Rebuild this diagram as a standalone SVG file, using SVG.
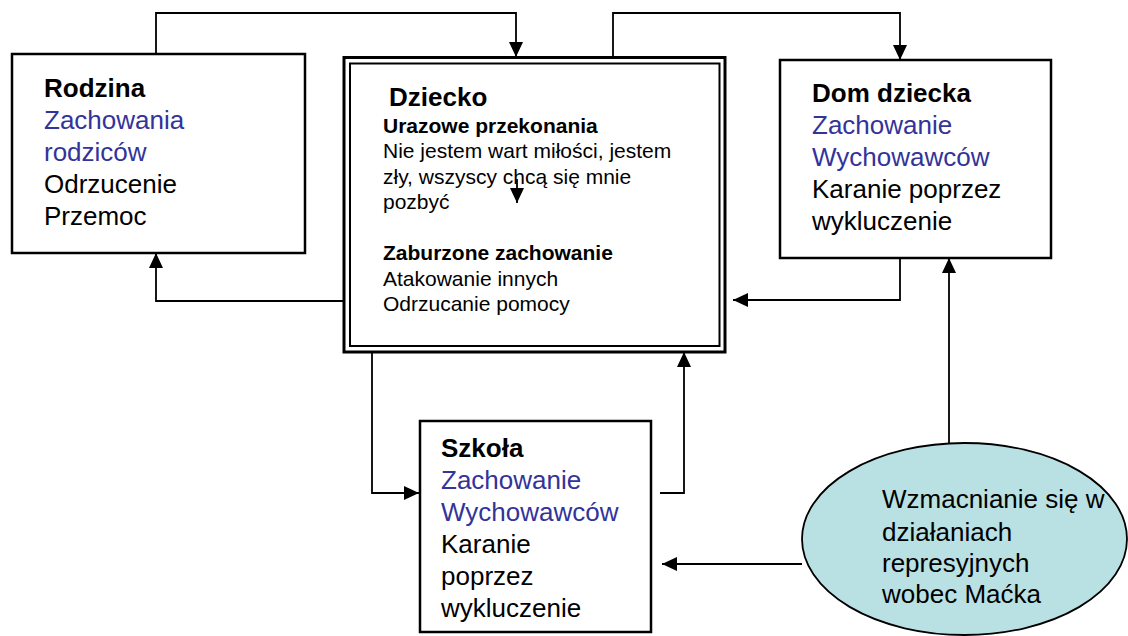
<svg xmlns="http://www.w3.org/2000/svg" width="1128" height="636" viewBox="0 0 1128 636">
<style>
.box{fill:#fff;stroke:#000;stroke-width:2.5}
.t{font-family:"Liberation Sans",Arial,sans-serif;fill:#000}
.big{font-size:26px}
.sm{font-size:21px}
.b{font-weight:bold}
.blue{fill:#333399}
.con{fill:none;stroke:#000;stroke-width:1.8}
</style>
<defs>
<marker id="ah" markerUnits="userSpaceOnUse" markerWidth="15" markerHeight="14" refX="15" refY="7" orient="auto">
<path d="M0,0 L15,7 L0,14 z" fill="#000"/>
</marker>
</defs>
<rect width="1128" height="636" fill="#fff"/>
<g id="connectors">
<path class="con" d="M156,61 V13 H516 V57" marker-end="url(#ah)"/>
<path class="con" d="M613,57 V13 H900 V60" marker-end="url(#ah)"/>
<path class="con" d="M900,252 V300 H733" marker-end="url(#ah)"/>
<path class="con" d="M347,301 H156 V253" marker-end="url(#ah)"/>
<path class="con" d="M372,349 V493 H419" marker-end="url(#ah)"/>
<path class="con" d="M660,493 H684 V352" marker-end="url(#ah)"/>
<path class="con" d="M949,443 V258" marker-end="url(#ah)"/>
<path class="con" d="M802,564 H662" marker-end="url(#ah)"/>
</g>
<g id="rodzina">
<rect class="box" x="12" y="54" width="293" height="199"/>
<text class="t big b" x="44" y="97">Rodzina</text>
<text class="t big blue" x="44" y="129">Zachowania</text>
<text class="t big blue" x="44" y="161">rodziców</text>
<text class="t big" x="44" y="193">Odrzucenie</text>
<text class="t big" x="44" y="225">Przemoc</text>
</g>
<g id="dziecko">
<rect x="344" y="57.5" width="381" height="294.5" fill="#fff" stroke="#000" stroke-width="3"/>
<rect x="350" y="63.5" width="369.5" height="282.5" fill="none" stroke="#000" stroke-width="2"/>
<text class="t big b" x="389" y="106">Dziecko</text>
<text class="t sm b" x="383" y="133">Urazowe przekonania</text>
<text class="t sm" x="383" y="158">Nie jestem wart miłości, jestem</text>
<text class="t sm" x="383" y="183.5">zły, wszyscy chcą się mnie</text>
<text class="t sm" x="383" y="209">pozbyć</text>
<text class="t sm b" x="383" y="260">Zaburzone zachowanie</text>
<text class="t sm" x="383" y="286">Atakowanie innych</text>
<text class="t sm" x="383" y="311">Odrzucanie pomocy</text>
<path class="con" d="M517,179 V203" marker-end="url(#ah)"/>
</g>
<g id="dom-dziecka">
<rect class="box" x="780" y="60" width="271" height="198"/>
<text class="t big b" x="812" y="102">Dom dziecka</text>
<text class="t big blue" x="812" y="134">Zachowanie</text>
<text class="t big blue" x="812" y="166">Wychowawców</text>
<text class="t big" x="812" y="198">Karanie poprzez</text>
<text class="t big" x="812" y="230">wykluczenie</text>
</g>
<g id="szkola">
<rect class="box" x="420" y="421" width="231" height="211"/>
<text class="t big b" x="441" y="457">Szkoła</text>
<text class="t big blue" x="441" y="489">Zachowanie</text>
<text class="t big blue" x="441" y="521">Wychowawców</text>
<text class="t big" x="441" y="553">Karanie</text>
<text class="t big" x="441" y="585">poprzez</text>
<text class="t big" x="441" y="617">wykluczenie</text>
</g>
<g id="wzmacnianie">
<ellipse cx="964.5" cy="539" rx="162.5" ry="96" fill="#b9e0e3" stroke="#000" stroke-width="1.8"/>
<text class="t big" x="882" y="508">Wzmacnianie się w</text>
<text class="t big" x="882" y="541">działaniach</text>
<text class="t big" x="882" y="572">represyjnych</text>
<text class="t big" x="882" y="603">wobec Maćka</text>
</g>
</svg>
